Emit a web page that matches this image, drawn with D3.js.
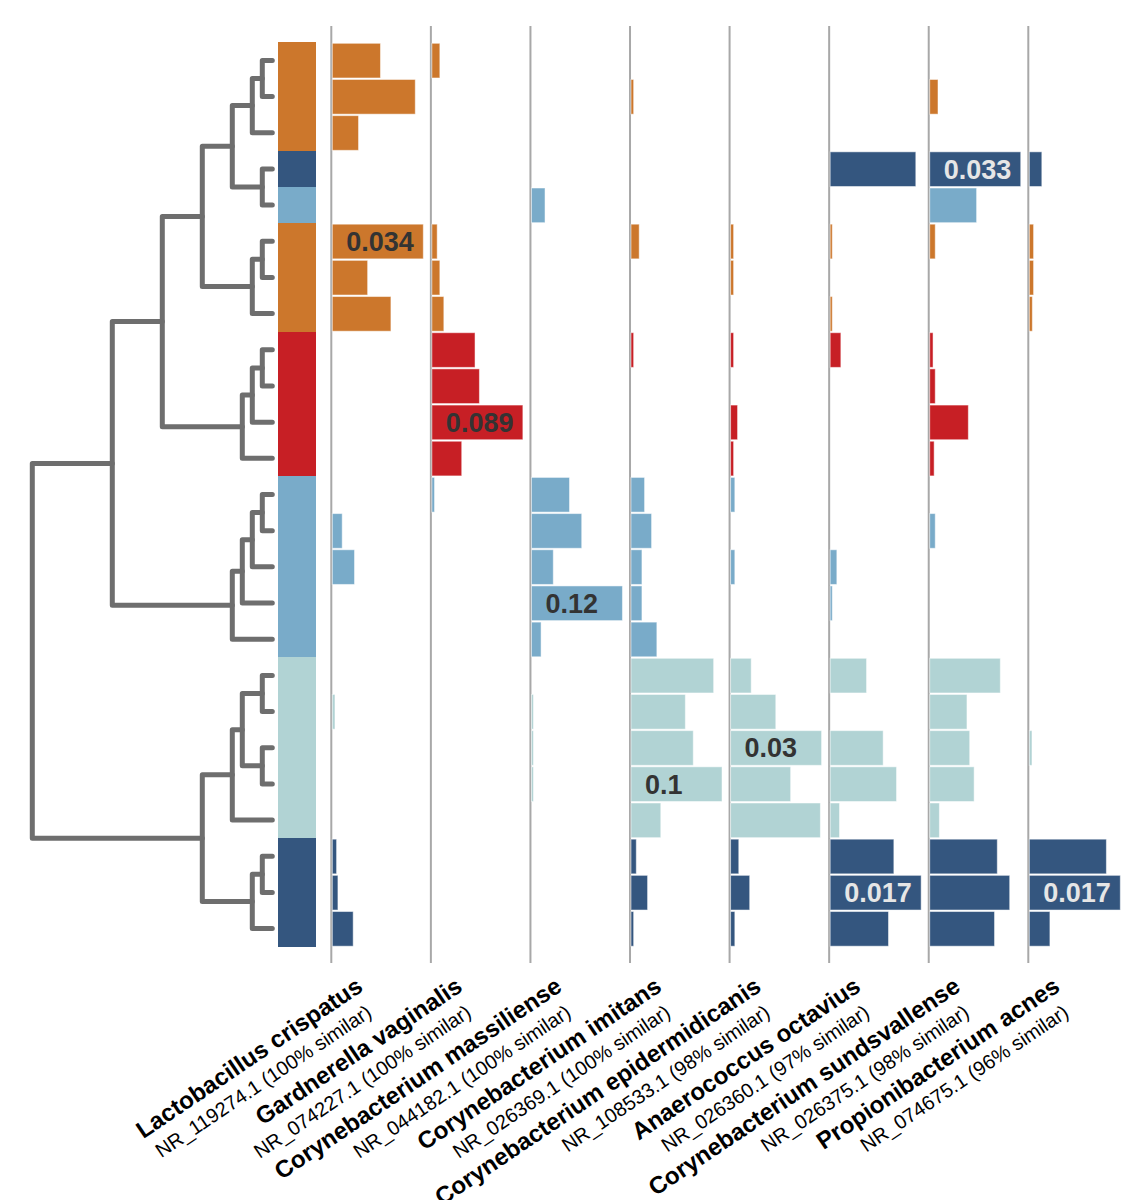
<!DOCTYPE html>
<html>
<head>
<meta charset="utf-8">
<script src="https://cdn.jsdelivr.net/npm/d3@7"></script>
<style>
  body { margin: 0; background: #fff; }
  text { font-family: "Liberation Sans", Arial, Helvetica, sans-serif; }
</style>
</head>
<body>
<svg id="chart" width="1143" height="1200"></svg>
<script>
const species = ['Lactobacillus crispatus', 'Gardnerella vaginalis', 'Corynebacterium massiliense', 'Corynebacterium imitans',
  'Corynebacterium epidermidicanis', 'Anaerococcus octavius', 'Corynebacterium sundsvallense', 'Propionibacterium acnes'];
const accessions = ['NR_119274.1 (100% similar)', 'NR_074227.1 (100% similar)', 'NR_044182.1 (100% similar)', 'NR_026369.1 (100% similar)',
  'NR_108533.1 (98% similar)', 'NR_026360.1 (97% similar)', 'NR_026375.1 (98% similar)', 'NR_074675.1 (96% similar)'];

const clusterColors = ['#cc772c', '#34567f', '#79abc9', '#c71f25', '#b1d3d4'];
// cluster of each sample row, top to bottom
const rowCluster = [0, 0, 0, 1, 2, 0, 0, 0, 3, 3, 3, 3, 2, 2, 2, 2, 2, 4, 4, 4, 4, 4, 1, 1, 1];

// relative abundance per species, one value per row
const lactobacillus = [0.018, 0.031, 0.0098, 0, 0, 0.034, 0.0132, 0.0219, 0, 0, 0, 0, 0, 0.0037, 0.0083, 0, 0, 0, 0.001, 0, 0, 0, 0.0016, 0.0021, 0.0078];
const gardnerella = [0.0078, 0, 0, 0, 0, 0.0052, 0.0078, 0.0117, 0.0422, 0.0465, 0.089, 0.0292, 0.0026, 0, 0, 0, 0, 0, 0, 0, 0, 0, 0, 0, 0];
const massiliense = [0, 0, 0, 0, 0.0179, 0, 0, 0, 0, 0, 0, 0, 0.0502, 0.0663, 0.0288, 0.12, 0.0127, 0, 0.0026, 0.0026, 0.0026, 0, 0, 0, 0];
const imitans = [0, 0.0029, 0, 0, 0, 0.009, 0, 0, 0.0029, 0, 0, 0, 0.0149, 0.0226, 0.012, 0.012, 0.0284, 0.0908, 0.0597, 0.0684, 0.1, 0.0327, 0.0058, 0.0182, 0.0029];
const epidermidicanis = [0, 0, 0, 0, 0, 0.001, 0.001, 0, 0.001, 0, 0.0023, 0.001, 0.0014, 0, 0.0014, 0, 0, 0.0068, 0.0149, 0.03, 0.0198, 0.0296, 0.0027, 0.0063, 0.0014];
const octavius = [0, 0, 0, 0.016, 0, 0.0004, 0, 0.0004, 0.002, 0, 0, 0, 0, 0, 0.00125, 0.0004, 0, 0.0068, 0, 0.0099, 0.0124, 0.00175, 0.0119, 0.017, 0.0109];
const sundsvallense = [0, 0.003, 0, 0.033, 0.017, 0.002, 0, 0, 0.0012, 0.002, 0.014, 0.0016, 0, 0.002, 0, 0, 0, 0.0256, 0.0135, 0.0145, 0.0161, 0.0035, 0.0245, 0.029, 0.0235];
const acnes = [0, 0, 0, 0.00234, 0, 0.0008, 0.0008, 0.00057, 0, 0, 0, 0, 0, 0, 0, 0, 0, 0, 0, 0.0005, 0, 0, 0.0144, 0.017, 0.00385];
const columns = [lactobacillus, gardnerella, massiliense, imitans, epidermidicanis, octavius, sundsvallense, acnes];

// linkage tree: internal nodes carry a height, leaves a row index
const tree = {h: 24, children: [
  {h: 16, children: [
    {h: 11, children: [
      {h: 7, children: [
        {h: 4, children: [
          {h: 2, children: [{h: 1, children: [{row: 0}, {row: 1}]}, {row: 2}]},
          {h: 1, children: [{row: 3}, {row: 4}]}]},
        {h: 2, children: [{h: 1, children: [{row: 5}, {row: 6}]}, {row: 7}]}]},
      {h: 3, children: [{h: 2, children: [{h: 1, children: [{row: 8}, {row: 9}]}, {row: 10}]}, {row: 11}]}]},
    {h: 4, children: [{h: 3, children: [{h: 2, children: [{h: 1, children: [{row: 12}, {row: 13}]}, {row: 14}]}, {row: 15}]}, {row: 16}]}]},
  {h: 7, children: [
    {h: 4, children: [
      {h: 3, children: [{h: 1, children: [{row: 17}, {row: 18}]}, {h: 1, children: [{row: 19}, {row: 20}]}]},
      {row: 21}]},
    {h: 2, children: [{h: 1, children: [{row: 22}, {row: 23}]}, {row: 24}]}]}
]};

const svg = d3.select('#chart');
const rows = d3.range(rowCluster.length);
const y = d3.scaleBand().domain(rows).range([42.3, 946.7]);
const hx = d3.scaleLinear().domain([0, 24]).range([272.3, 32.3]);
const colX = d3.scalePoint().domain(species).range([331.3, 1028.3]);

// dendrogram
const root = d3.hierarchy(tree);
root.eachAfter(d => {
  if (d.children) {
    d.x = hx(d.data.h);
    d.y = d3.mean(d.children, c => c.y);
  } else {
    d.x = hx(0);
    d.y = y(d.data.row) + y.bandwidth() / 2;
  }
});
svg.append('g')
  .selectAll('path')
  .data(root.descendants().filter(d => d.children))
  .join('path')
  .attr('fill', 'none')
  .attr('stroke', '#6e6e6e')
  .attr('stroke-width', 5)
  .attr('stroke-linecap', 'round')
  .attr('stroke-linejoin', 'round')
  .attr('d', d => {
    const a = d.children[0], b = d.children[d.children.length - 1];
    return `M${a.x},${a.y}H${d.x}V${b.y}H${b.x}`;
  });

// cluster colour strip
svg.append('g')
  .attr('shape-rendering', 'crispEdges')
  .selectAll('rect')
  .data(rows)
  .join('rect')
  .attr('x', 278.3)
  .attr('width', 38)
  .attr('y', r => y(r))
  .attr('height', r => r === rows.length - 1 ? y.bandwidth() : y.bandwidth() + 1)
  .attr('fill', r => clusterColors[rowCluster[r]]);

// column guide lines
svg.append('g')
  .selectAll('line')
  .data(species)
  .join('line')
  .attr('x1', s => colX(s))
  .attr('x2', s => colX(s))
  .attr('y1', 26)
  .attr('y2', 963)
  .attr('stroke', '#a8a8a8')
  .attr('stroke-width', 2);

const fmt = d3.format('.2~g');
species.forEach((s, i) => {
  const vals = columns[i];
  const max = d3.max(vals);
  const w = d3.scaleLinear().domain([0, max]).range([0, 91]);
  const g = svg.append('g').attr('transform', `translate(${colX(s) + 1},0)`);
  g.selectAll('rect')
    .data(rows.filter(r => vals[r] > 0))
    .join('rect')
    .attr('x', 0)
    .attr('y', r => y(r) + 1)
    .attr('height', y.bandwidth() - 1.5)
    .attr('width', r => Math.max(w(vals[r]), 1.2))
    .attr('fill', r => clusterColors[rowCluster[r]])
    .attr('stroke', '#fff')
    .attr('stroke-opacity', 0.5)
    .attr('stroke-width', 1);
  const top = vals.indexOf(max);
  g.append('text')
    .attr('x', 14)
    .attr('y', y(top) + y.bandwidth() / 2)
    .attr('dy', '0.36em')
    .attr('font-size', 27)
    .attr('font-weight', 'bold')
    .attr('fill', rowCluster[top] === 1 ? '#e6e6e6' : '#333')
    .text(fmt(max));

  // rotated column header
  const h = svg.append('g').attr('transform', `translate(${colX(s) + 33},990) rotate(-34)`);
  h.append('text')
    .attr('text-anchor', 'end')
    .attr('font-size', 24)
    .attr('font-weight', 'bold')
    .attr('fill', '#000')
    .text(s);
  h.append('text')
    .attr('text-anchor', 'end')
    .attr('x', -7)
    .attr('y', 26)
    .attr('font-size', 20)
    .attr('fill', '#000')
    .text(accessions[i]);
});
</script>
</body>
</html>
